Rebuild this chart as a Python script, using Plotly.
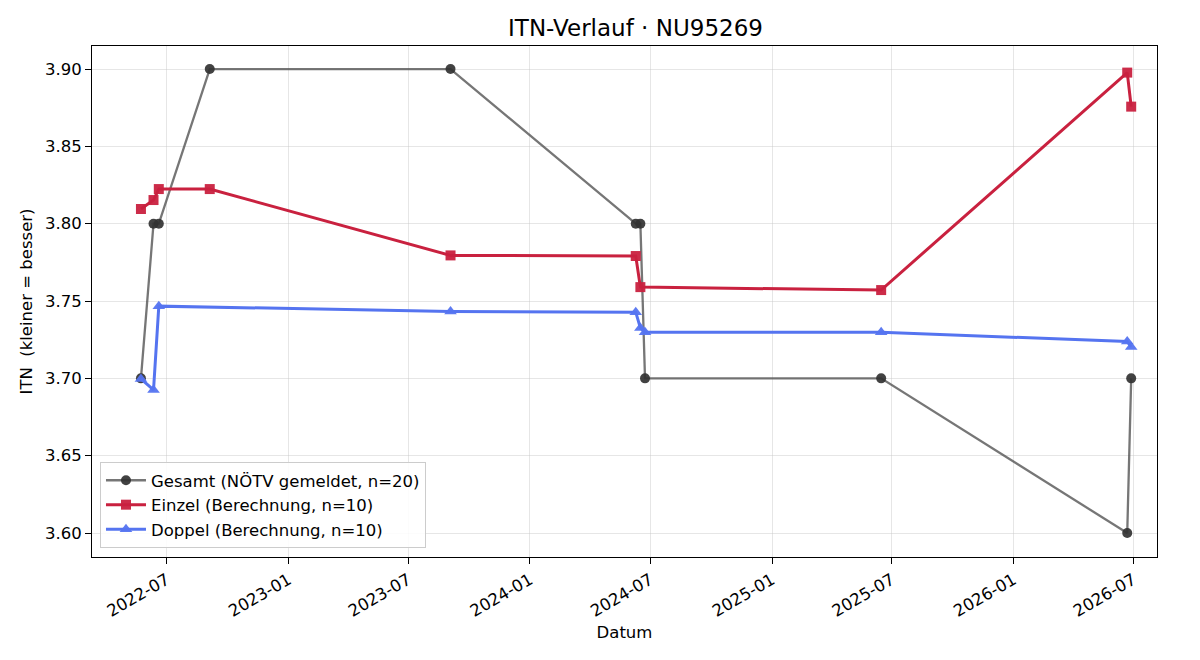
import plotly.graph_objects as go

# Gesamt (NÖTV gemeldet)
gesamt_dates = ["2022-05-23", "2022-06-11", "2022-06-19", "2022-09-04", "2023-09-03",
                "2024-06-09", "2024-06-16", "2024-06-23", "2025-06-15", "2026-06-22", "2026-06-28"]
gesamt_vals = [3.70, 3.80, 3.80, 3.90, 3.90, 3.80, 3.80, 3.70, 3.70, 3.60, 3.70]

# Einzel (Berechnung)
einzel_dates = ["2022-05-23", "2022-06-11", "2022-06-19", "2022-09-04", "2023-09-03",
                "2024-06-09", "2024-06-16", "2025-06-15", "2026-06-22", "2026-06-28"]
einzel_vals = [3.8095, 3.8153, 3.8224, 3.8224, 3.7795, 3.7791, 3.7590, 3.7571, 3.8977, 3.8757]

# Doppel (Berechnung)
doppel_dates = ["2022-05-23", "2022-06-11", "2022-06-19", "2023-09-03", "2024-06-09",
                "2024-06-16", "2024-06-23", "2025-06-15", "2026-06-22", "2026-06-28"]
doppel_vals = [3.6996, 3.6925, 3.7467, 3.7433, 3.7428, 3.7326, 3.7298, 3.7298, 3.7238, 3.7203]

y_ticks = [3.60, 3.65, 3.70, 3.75, 3.80, 3.85, 3.90]

FONT = "DejaVu Sans"
BASE = 16.5

fig = go.Figure()
fig.add_trace(go.Scatter(
    x=gesamt_dates, y=gesamt_vals, mode="lines+markers",
    name="Gesamt (NÖTV gemeldet, n=20)",
    line=dict(color="rgba(80,80,80,0.78)", width=2.3),
    marker=dict(symbol="circle", size=10, color="rgba(50,50,50,0.92)",
                line=dict(width=0)),
))
fig.add_trace(go.Scatter(
    x=einzel_dates, y=einzel_vals, mode="lines+markers",
    name="Einzel (Berechnung, n=10)",
    line=dict(color="#C9213F", width=3),
    marker=dict(symbol="square", size=10, color="rgba(201,33,63,0.95)",
                line=dict(width=0)),
))
fig.add_trace(go.Scatter(
    x=doppel_dates, y=doppel_vals, mode="lines+markers",
    name="Doppel (Berechnung, n=10)",
    line=dict(color="#5574F0", width=3),
    marker=dict(symbol="triangle-up", size=11, color="rgba(85,116,240,0.95)",
                line=dict(width=0)),
))

fig.update_layout(
    width=1200, height=660,
    margin=dict(l=92, r=43, t=46, b=103),
    paper_bgcolor="white", plot_bgcolor="white",
    font=dict(family=FONT, size=BASE, color="black"),
    title=dict(text="ITN-Verlauf · NU95269", x=635.5 / 1200, xanchor="center", xref="container",
               y=1 - 28 / 660, yanchor="middle", yref="container",
               font=dict(family=FONT, size=23, color="black")),
    showlegend=True,
    legend=dict(x=0.0075, y=0.0176, xanchor="left", yanchor="bottom",
                bgcolor="rgba(255,255,255,0.85)", bordercolor="#cccccc", borderwidth=1,
                font=dict(family=FONT, size=BASE), itemwidth=40, tracegroupgap=0),
    xaxis=dict(
        range=["2022-03-10", "2026-08-06"],
        tickmode="linear", tick0="2022-07-01", dtick="M6", tickformat="%Y-%m",
        tickangle=-30, ticks="outside", ticklen=6, tickcolor="black",
        showline=True, linecolor="black", linewidth=1, mirror=True,
        showgrid=True, gridcolor="rgba(200,200,200,0.45)", gridwidth=1,
        zeroline=False,
        title=dict(text="Datum", font=dict(family=FONT, size=BASE), standoff=6),
        tickfont=dict(family=FONT, size=BASE),
    ),
    yaxis=dict(
        range=[3.5845, 3.9149],
        tickmode="array", tickvals=y_ticks, ticktext=[f"{v:.2f}" for v in y_ticks],
        ticks="outside", ticklen=6, tickcolor="black",
        showline=True, linecolor="black", linewidth=1, mirror=True,
        showgrid=True, gridcolor="rgba(200,200,200,0.45)", gridwidth=1,
        zeroline=False,
        title=dict(text="ITN\u00a0 (kleiner = besser)", font=dict(family=FONT, size=BASE), standoff=8),
        tickfont=dict(family=FONT, size=BASE),
    ),
)

fig.write_html("out.html")
